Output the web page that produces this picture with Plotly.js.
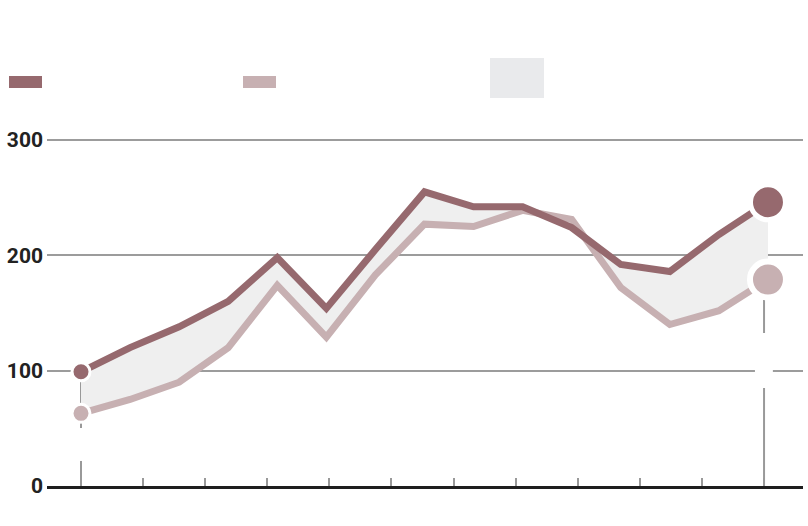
<!DOCTYPE html>
<html>
<head>
<meta charset="utf-8">
<script src="https://cdn.plot.ly/plotly-3.0.1.min.js"></script>
<style>html,body{margin:0;padding:0;background:#fff}#chart{width:808px;height:526px}</style>
</head>
<body>
<div id="chart"></div>
<script>
// Data
const periods = [0, 1, 2, 3, 4, 5, 6, 7, 8, 9, 10, 11, 12, 13, 14];
const seriesDark = [99, 120, 138, 160, 198, 154, 205, 255, 242, 242, 224, 192, 186, 218, 246];
const seriesLight = [63, 75, 90, 120, 174, 129, 183, 227, 225, 239, 231, 172, 140, 152, 179];
const xTickPositions = [0, 1.2655, 2.531, 3.7965, 5.062, 6.3275, 7.593, 8.8585, 10.124, 11.3895, 12.655, 13.92];
const yTickValues = [0, 100, 200, 300];
const yTickLabels = ["0", "100", "200", "300"];

const DARK = "#96696e";
const LIGHT = "#c7b0b2";
const FILL = "#efefef";

const last = periods.length - 1;

const traces = [
  {x: periods, y: seriesLight, type: "scatter", mode: "lines",
   line: {color: LIGHT, width: 7, shape: "linear"}, hoverinfo: "skip", showlegend: false},
  {x: periods, y: seriesDark, type: "scatter", mode: "lines", fill: "tonexty", fillcolor: FILL,
   line: {color: DARK, width: 7, shape: "linear"}, hoverinfo: "skip", showlegend: false},
  {x: [periods[0]], y: [seriesLight[0]], type: "scatter", mode: "markers", cliponaxis: false,
   marker: {color: LIGHT, size: 18, line: {color: "#fff", width: 3}}, showlegend: false, hoverinfo: "skip"},
  {x: [periods[0]], y: [seriesDark[0]], type: "scatter", mode: "markers", cliponaxis: false,
   marker: {color: DARK, size: 18, line: {color: "#fff", width: 3}}, showlegend: false, hoverinfo: "skip"},
  {x: [periods[last]], y: [seriesLight[last]], type: "scatter", mode: "markers", cliponaxis: false,
   marker: {color: LIGHT, size: 36, line: {color: "#fff", width: 6}}, showlegend: false, hoverinfo: "skip"},
  {x: [periods[last]], y: [seriesDark[last]], type: "scatter", mode: "markers", cliponaxis: false,
   marker: {color: DARK, size: 35, line: {color: "#fff", width: 5}}, showlegend: false, hoverinfo: "skip"}
];

const plotTop = 138, plotBottom = 486;
const px2paperX = p => (p - 47) / 756;
const px2paperY = p => (plotBottom - p) / (plotBottom - plotTop);

const shapes = [
  // legend swatches
  {type: "rect", xref: "paper", yref: "paper", x0: px2paperX(9), x1: px2paperX(42), y0: px2paperY(88), y1: px2paperY(76),
   fillcolor: DARK, line: {width: 0}},
  {type: "rect", xref: "paper", yref: "paper", x0: px2paperX(243), x1: px2paperX(276), y0: px2paperY(88), y1: px2paperY(76),
   fillcolor: LIGHT, line: {width: 0}},
  {type: "rect", xref: "paper", yref: "paper", x0: px2paperX(490), x1: px2paperX(544), y0: px2paperY(98), y1: px2paperY(58),
   fillcolor: "#e9eaec", line: {width: 0}},
  // vertical reference lines
  {type: "line", layer: "between", xref: "x", yref: "y", x0: periods[0], x1: periods[0], y0: 0, y1: seriesDark[0],
   line: {color: "#999", width: 2}},
  {type: "line", layer: "between", xref: "x", yref: "y", x0: xTickPositions[11], x1: xTickPositions[11], y0: 0, y1: 226,
   line: {color: "#999", width: 2}},
  // white knockouts (empty label boxes)
  {type: "rect", layer: "between", xref: "x", yref: "y", x0: -0.2, x1: 0.2, y0: 21.7, y1: 50.3,
   fillcolor: "#fff", line: {width: 0}},
  {type: "rect", layer: "between", xref: "x", yref: "y", x0: 13.735, x1: 14.10, y0: 85, y1: 132.7,
   fillcolor: "#fff", line: {width: 0}}
];

const layout = {
  width: 808, height: 526,
  margin: {l: 47, r: 5, t: plotTop, b: 526 - plotBottom},
  paper_bgcolor: "#fff", plot_bgcolor: "#fff",
  showlegend: false,
  xaxis: {
    range: [-0.693, 14.714], showgrid: false, zeroline: false,
    showline: true, linecolor: "#1e1e1e", linewidth: 3,
    tickmode: "array", tickvals: xTickPositions, ticks: "inside", ticklen: 8, tickwidth: 2, tickcolor: "#999",
    showticklabels: false, fixedrange: true
  },
  yaxis: {
    range: [0, 301.7], showgrid: true, gridcolor: "#9c9c9c", gridwidth: 2, zeroline: false, showline: false,
    tickmode: "array", tickvals: yTickValues, ticktext: yTickLabels, ticks: "",
    ticklabelstandoff: 3,
    tickfont: {family: "Roboto, Arial, sans-serif", size: 21, color: "#222", weight: 700},
    fixedrange: true
  },
  shapes: shapes
};

Plotly.newPlot("chart", traces, layout, {displayModeBar: false, staticPlot: true});
</script>
</body>
</html>
